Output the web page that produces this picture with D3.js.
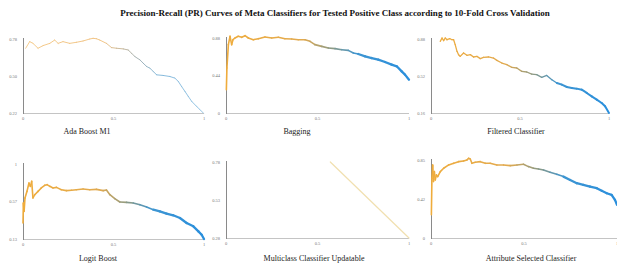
<!DOCTYPE html>
<html>
<head>
<meta charset="utf-8">
<script src="https://cdn.jsdelivr.net/npm/d3@7"></script>
<style>
  body { margin: 0; background: #fff; }
  svg { display: block; font-family: "Liberation Serif", "DejaVu Serif", serif; }
</style>
</head>
<body>
<script>
// PR curves of meta classifiers, 2 x 3 small multiples

const W = 617, H = 263;

const title = "Precision-Recall (PR) Curves of Meta Classifiers for Tested Positive Class according to 10-Fold Cross Validation";

// data (recall, precision)
const adaRecall = [0.015,0.037,0.055,0.083,0.111,0.148,0.175,0.194,0.221,0.258,0.295,0.332,0.369,0.387,0.406,0.424,0.461,0.489,0.517,0.554,0.581,0.600,0.618,0.646,0.664,0.683,0.701,0.720,0.738,0.775,0.812,0.839,0.858,0.876,0.895,0.913,0.932,0.959,0.978,0.996];
const adaPrecision = [0.71,0.76,0.747,0.71,0.73,0.747,0.772,0.747,0.76,0.747,0.755,0.765,0.78,0.785,0.782,0.772,0.747,0.715,0.71,0.705,0.697,0.672,0.647,0.622,0.597,0.572,0.559,0.534,0.509,0.504,0.496,0.484,0.459,0.421,0.383,0.346,0.308,0.27,0.245,0.22];

const bagRecall = [0.002,0.005,0.013,0.022,0.031,0.038,0.049,0.067,0.086,0.104,0.122,0.149,0.177,0.213,0.250,0.286,0.322,0.359,0.395,0.432,0.459,0.486,0.523,0.559,0.596,0.632,0.668,0.696,0.723,0.760,0.796,0.832,0.869,0.905,0.933,0.960,0.978,1.0];
const bagPrecision = [0.274,0.528,0.802,0.90,0.802,0.86,0.88,0.90,0.888,0.907,0.88,0.86,0.872,0.892,0.88,0.888,0.872,0.868,0.86,0.86,0.841,0.802,0.782,0.763,0.755,0.743,0.735,0.704,0.692,0.665,0.645,0.626,0.598,0.567,0.548,0.489,0.45,0.391];

const filRecall = [0.052,0.062,0.071,0.080,0.090,0.105,0.118,0.127,0.136,0.146,0.155,0.164,0.183,0.202,0.221,0.239,0.258,0.277,0.295,0.323,0.351,0.370,0.398,0.426,0.454,0.482,0.510,0.538,0.566,0.594,0.622,0.650,0.679,0.707,0.735,0.763,0.791,0.819,0.847,0.875,0.903,0.931,0.959,0.978,1.0];
const filPrecision = [0.857,0.89,0.864,0.89,0.873,0.883,0.873,0.873,0.825,0.76,0.727,0.711,0.744,0.721,0.728,0.705,0.711,0.689,0.702,0.705,0.695,0.672,0.646,0.63,0.604,0.598,0.565,0.559,0.539,0.533,0.507,0.526,0.484,0.452,0.436,0.413,0.403,0.397,0.387,0.355,0.322,0.29,0.257,0.225,0.16];

const logRecall = [0,0.002,0.006,0.011,0.022,0.033,0.041,0.048,0.055,0.065,0.083,0.101,0.12,0.133,0.148,0.166,0.185,0.212,0.24,0.268,0.295,0.332,0.369,0.406,0.443,0.461,0.48,0.507,0.535,0.572,0.609,0.646,0.683,0.72,0.756,0.793,0.83,0.867,0.904,0.941,0.969,0.987,1.0];
const logPrecision = [0.316,0.548,0.451,0.606,0.683,0.78,0.741,0.799,0.606,0.644,0.683,0.722,0.753,0.76,0.741,0.722,0.729,0.702,0.691,0.695,0.702,0.71,0.702,0.706,0.691,0.698,0.644,0.598,0.559,0.555,0.548,0.528,0.501,0.47,0.451,0.424,0.405,0.374,0.316,0.277,0.219,0.18,0.13];

const mulRecall = [0.57,1.0];
const mulPrecision = [0.78,0.28];

const attRecall = [0.002,0.005,0.009,0.013,0.018,0.023,0.029,0.036,0.05,0.068,0.095,0.122,0.148,0.175,0.193,0.202,0.211,0.22,0.238,0.265,0.292,0.318,0.354,0.39,0.426,0.462,0.497,0.524,0.551,0.578,0.605,0.64,0.676,0.712,0.748,0.784,0.819,0.855,0.891,0.918,0.945,0.971,0.989,1.0];
const attPrecision = [0.253,0.651,0.796,0.615,0.723,0.633,0.687,0.669,0.723,0.76,0.796,0.814,0.832,0.839,0.85,0.868,0.861,0.814,0.825,0.832,0.814,0.814,0.796,0.796,0.789,0.796,0.803,0.778,0.76,0.752,0.741,0.716,0.694,0.669,0.633,0.597,0.579,0.561,0.543,0.514,0.488,0.47,0.416,0.362];

const names = ["Ada Boost M1", "Bagging", "Filtered Classifier", "Logit Boost", "Multiclass Classifier Updatable", "Attribute Selected Classifier"];
const xTicks = [0, 0.5, 1];
const xTickLabels = ["0", "0.5", "1"];
const yTickLabels = [
  ["0.22", "0.50", "0.78"],
  ["0", "0.44", "0.88"],
  ["0.16", "0.52", "0.88"],
  ["0.13", "0.57", "1"],
  ["0.28", "0.53", "0.78"],
  ["0", "0.42", "0.85"]
];
const recalls = [adaRecall, bagRecall, filRecall, logRecall, mulRecall, attRecall];
const precisions = [adaPrecision, bagPrecision, filPrecision, logPrecision, mulPrecision, attPrecision];

// panel geometry
const layout = [
  {x0: 23, x1: 204, yTop: 39, yBot: 113, lx: 87, ly: 134, w: 0.9, light: true},
  {x0: 226, x1: 409, yTop: 38, yBot: 113, lx: 297, ly: 134, w: 1.6},
  {x0: 431, x1: 609, yTop: 39, yBot: 113, lx: 516, ly: 134, w: 1.3},
  {x0: 23, x1: 204, yTop: 164, yBot: 239, lx: 98, ly: 261, w: 1.6},
  {x0: 226, x1: 409, yTop: 162, yBot: 238, lx: 314, ly: 261, w: 1.2, flat: "#f1e0b0"},
  {x0: 431, x1: 617, yTop: 160, yBot: 238, lx: 531, ly: 261, w: 1.6}
];

const svg = d3.select("body").append("svg")
  .attr("width", W)
  .attr("height", H);

svg.append("text")
  .attr("x", 335).attr("y", 16)
  .attr("text-anchor", "middle")
  .attr("font-size", 9)
  .attr("font-weight", "bold")
  .attr("fill", "#111")
  .text(title);

const colorStrong = d3.scaleLinear()
  .domain([0, 0.42, 0.58, 0.72, 1])
  .range(["#efac3c", "#e2aa4f", "#8c9a86", "#3d95d2", "#2a8fdc"]);
const colorLight = d3.scaleLinear()
  .domain([0, 0.45, 0.6, 0.75, 1])
  .range(["#f4c680", "#efbf7d", "#a9aaa0", "#7bb3d8", "#8cc0e2"]);

names.forEach((name, i) => {
  const L = layout[i];
  const labs = yTickLabels[i];
  const lo = +labs[0], hi = +labs[2];

  const x = d3.scaleLinear().domain([0, 1]).range([L.x0, L.x1]);
  const y = d3.scaleLinear().domain([lo, hi]).range([L.yBot, L.yTop]);

  const g = svg.append("g");

  // x axis
  g.append("line")
    .attr("x1", L.x0).attr("x2", L.x1)
    .attr("y1", L.yBot + 0.5).attr("y2", L.yBot + 0.5)
    .attr("stroke", "#c4c4c4").attr("stroke-width", 1);
  g.selectAll(".xt").data(xTicks).join("text")
    .attr("x", d => x(d))
    .attr("y", L.yBot + 7)
    .attr("text-anchor", "middle")
    .attr("font-size", 4.5)
    .attr("fill", "#777")
    .text((d, k) => xTickLabels[k]);

  // y axis
  g.append("line")
    .attr("x1", L.x0 + 0.5).attr("x2", L.x0 + 0.5)
    .attr("y1", L.yTop - 1).attr("y2", L.yBot + 1)
    .attr("stroke", "#8a8a8a").attr("stroke-width", 1);
  const yVals = labs.map(Number);
  g.selectAll(".yt").data(yVals).join("text")
    .attr("x", L.x0 - 6)
    .attr("y", d => y(d) + 1.5)
    .attr("text-anchor", "end")
    .attr("font-size", 4.5)
    .attr("fill", "#777")
    .text((d, k) => labs[k]);

  // curve, segment by segment so colour can follow recall
  const pts = recalls[i].map((r, k) => [r, precisions[i][k]]);
  const col = L.light ? colorLight : colorStrong;
  g.selectAll(".seg").data(d3.pairs(pts)).join("line")
    .attr("x1", d => x(d[0][0])).attr("y1", d => y(d[0][1]))
    .attr("x2", d => x(d[1][0])).attr("y2", d => y(d[1][1]))
    .attr("stroke", d => L.flat || col((d[0][0] + d[1][0]) / 2))
    .attr("stroke-width", d => L.w + ((d[0][0] > 0.7 && !L.light && !L.flat) ? 0.7 : 0))
    .attr("stroke-linecap", "round");

  // panel name
  g.append("text")
    .attr("x", L.lx).attr("y", L.ly)
    .attr("text-anchor", "middle")
    .attr("font-size", 8)
    .attr("fill", "#222")
    .text(name);
});
</script>
</body>
</html>
